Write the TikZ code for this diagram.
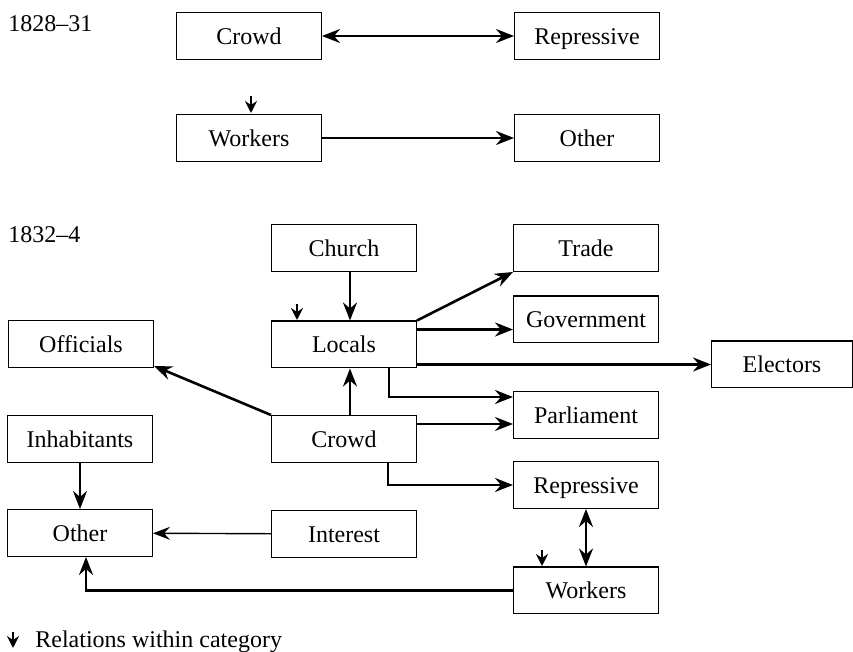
\documentclass[tikz,border=0pt]{standalone}
\usepackage{fontspec}
\setmainfont{Liberation Serif}
\usepackage{tikz}
\usetikzlibrary{shapes,arrows.meta,positioning}

\begin{document}
\begin{tikzpicture}[
    x=0.5pt, y=-0.5pt,
    font=\fontsize{12}{14}\selectfont,
    box/.style={rectangle, draw, line width=0.6pt, minimum width=72.4pt, minimum height=23.4pt, inner sep=0pt, text height=8.5pt, text depth=0.2pt},
    arr/.style={line width=1.3pt, -{Stealth[length=9pt,width=7pt,inset=3pt]}},
    biarr/.style={line width=1.3pt, {Stealth[length=9pt,width=7pt,inset=3pt]}-{Stealth[length=9pt,width=7pt,inset=3pt]}},
    thinarr/.style={line width=0.7pt, -{Stealth[length=8.5pt,width=6.5pt,inset=3pt]}},
    within/.style={line width=1.2pt, -{Stealth[length=6pt,width=6pt,inset=2pt]}},
    period/.style={anchor=base west, inner sep=0pt}
]
\useasboundingbox (0,0) rectangle (853,652);

% Periods
\node[period] (firstperiod) at (8,32) {1828--31};
\node[period] (secondperiod) at (8,243) {1832--4};

% 1828-31
\node[box] (crowdA) at (249,36) {Crowd};
\node[box] (repressiveA) at (587,36) {Repressive};
\node[box] (workersA) at (249,138) {Workers};
\node[box] (otherA) at (587,138) {Other};

% 1832-4
\node[box] (church) at (344,248) {Church};
\node[box] (trade) at (586,248) {Trade};
\node[box] (government) at (586,319.5) {Government};
\node[box] (locals) at (344,344.5) {Locals};
\node[box] (officials) at (81,344) {Officials};
\node[box, minimum width=70.4pt] (electors) at (782,364.5) {Electors};
\node[box] (parliament) at (586,415) {Parliament};
\node[box] (crowdB) at (344,439) {Crowd};
\node[box] (inhabitants) at (80,439) {Inhabitants};
\node[box] (repressiveB) at (586,485) {Repressive};
\node[box] (otherB) at (80,533) {Other};
\node[box] (interest) at (344,534) {Interest};
\node[box] (workersB) at (586,590.5) {Workers};

% Legend
\node[period] (legend) at (35,648) {Relations within category};

% Relations within category
\coordinate (wA1) at (251,96);
\coordinate (wA2) at (251,113);
\coordinate (wL1) at (297,304);
\coordinate (wL2) at (297,320);
\coordinate (wW1) at (542,550);
\coordinate (wW2) at (542,566);
\coordinate (wK1) at (13,632);
\coordinate (wK2) at (13,648);
\draw[within] (wA1) -- (wA2);
\draw[within] (wL1) -- (wL2);
\draw[within] (wW1) -- (wW2);
\draw[within] (wK1) -- (wK2);

% Relationships 1828-31
\draw[biarr] (crowdA) -- (repressiveA);
\draw[arr] (workersA) -- (otherA);

% Relationships 1832-4
\draw[arr] ([xshift=3pt]church.south) -- ([xshift=3pt]locals.north);
\draw[arr] (locals.north east) -- (trade.south west);
\draw[arr] ([yshift=-4.5pt]locals.north east) -- ([yshift=-4.5pt]locals.north east -| government.west);
\draw[arr] (electors.west -| locals.east) -- (electors.west);
\draw[arr] ([xshift=22.5pt]locals.south) |- ([yshift=9pt]parliament.west);
\draw[arr] ([xshift=3pt]crowdB.north) -- ([xshift=3pt]locals.south);
\draw[arr] ([yshift=-4.5pt]parliament.west -| crowdB.east) -- ([yshift=-4.5pt]parliament.west);
\draw[arr] (crowdB.north west) -- ([yshift=1pt]officials.south east);
\draw[arr] ([xshift=22pt]crowdB.south) |- (repressiveB.west);
\draw[arr] (inhabitants) -- (otherB);
\draw[thinarr] (interest) -- (otherB);
\draw[arr] (workersB.west) -| ([xshift=3pt]otherB.south);
\draw[biarr] (repressiveB) -- (workersB);

\end{tikzpicture}
\end{document}
